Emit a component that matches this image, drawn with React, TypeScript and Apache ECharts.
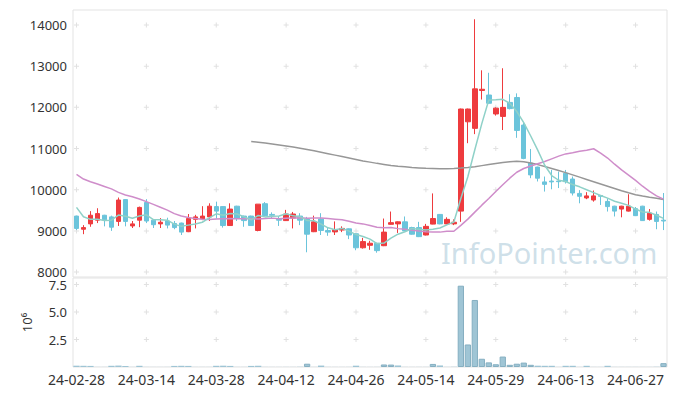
import React, { useEffect, useRef } from 'react';
import * as echarts from 'echarts';

const dates = [
  '24-02-28','24-02-29','24-03-04','24-03-05','24-03-06','24-03-07','24-03-08','24-03-11','24-03-12','24-03-13',
  '24-03-14','24-03-15','24-03-18','24-03-19','24-03-20','24-03-21','24-03-22','24-03-25','24-03-26','24-03-27',
  '24-03-28','24-03-29','24-04-01','24-04-02','24-04-03','24-04-04','24-04-05','24-04-08','24-04-09','24-04-11',
  '24-04-12','24-04-15','24-04-16','24-04-17','24-04-18','24-04-19','24-04-22','24-04-23','24-04-24','24-04-25',
  '24-04-26','24-04-29','24-04-30','24-05-02','24-05-03','24-05-07','24-05-08','24-05-09','24-05-10','24-05-13',
  '24-05-14','24-05-16','24-05-17','24-05-20','24-05-21','24-05-22','24-05-23','24-05-24','24-05-27','24-05-28',
  '24-05-29','24-05-30','24-05-31','24-06-03','24-06-04','24-06-05','24-06-07','24-06-10','24-06-11','24-06-12',
  '24-06-13','24-06-14','24-06-17','24-06-18','24-06-19','24-06-20','24-06-21','24-06-24','24-06-25','24-06-26',
  '24-06-27','24-06-28','24-07-01','24-07-02','24-07-03'
];

const opens = [
  9360,9040,9170,9260,9380,9340,9230,9760,9120,9260,
  9690,9260,9170,9240,9180,9190,8980,9280,9290,9340,
  9590,9590,9130,9600,9360,9360,9010,9660,9400,9280,
  9250,9310,9360,9290,8980,9290,9010,8975,9020,9050,
  8930,8590,8650,8700,8640,9160,9170,9220,9080,9080,
  8900,9165,9400,9170,9170,9480,11650,11490,12410,12300,
  11840,11780,12120,12240,11570,10650,10550,10190,10210,10210,
  10400,10260,9910,9800,9750,9860,9715,9600,9530,9480,
  9540,9600,9280,9400,9260
];
const closes = [
  9060,9080,9380,9420,9270,9090,9750,9230,9170,9570,
  9240,9150,9210,9140,9080,8970,9300,9340,9360,9600,
  9480,9130,9530,9310,9250,9130,9650,9370,9380,9260,
  9410,9410,9260,8920,9220,9010,8970,9030,9060,8900,
  8590,8740,8700,8520,8970,9200,9220,9000,8920,8860,
  9110,9300,9170,9280,9210,11960,11960,12450,12440,12100,
  11980,12000,11970,11440,10760,10360,10280,10130,10190,10195,
  10195,9920,9840,9850,9850,9840,9590,9480,9600,9600,
  9370,9250,9430,9230,9240
];
const lows = [
  9020,8920,9100,9190,9110,9000,9120,9110,9070,9090,
  9190,9070,9070,9060,9040,8900,8970,9060,9260,9240,
  9300,9080,9120,9240,9100,9120,8990,9360,9290,9120,
  9240,9060,9140,8480,8970,8900,8880,8900,8970,8800,
  8530,8570,8540,8470,8630,9150,8950,8990,8910,8850,
  8890,9160,9160,9160,9140,9220,11130,11350,12190,12090,
  11800,11450,11950,11260,10740,10280,10200,9955,10010,10040,
  10150,9860,9670,9770,9710,9630,9470,9350,9330,9470,
  9360,9240,9250,9040,9020
];
const highs = [
  9370,9140,9480,9550,9390,9370,9810,9770,9240,9590,
  9770,9270,9310,9320,9240,9200,9410,9390,9600,9670,
  9710,9600,9670,9610,9370,9370,9650,9700,9450,9360,
  9510,9460,9430,9340,9370,9430,9080,9230,9110,9060,
  8940,8830,8760,8710,9300,9470,9230,9350,9100,9220,
  9170,9910,9410,9330,9280,11970,11970,14140,12900,12840,
  12000,12950,12320,12340,11620,10990,10560,10320,10480,10440,
  10480,10320,9990,9940,9980,9870,9790,9610,9610,9890,
  9580,9610,9530,9470,9920
];

const ma5 = [
  9570,9345,9280,9280,9250,9260,9385,9355,9305,9360,
  9390,9275,9270,9260,9165,9110,9140,9165,9210,9315,
  9415,9380,9420,9410,9340,9270,9375,9340,9355,9360,
  9415,9365,9345,9250,9245,9165,9075,9030,9060,8995,
  8910,8865,8800,8690,8705,8825,8920,8980,9060,9040,
  9020,9040,9070,9145,9215,9785,10315,10970,11605,12180,
  12185,12195,12100,11900,11630,11305,10960,10595,10345,10230,
  10200,10125,10070,10000,9930,9860,9795,9720,9670,9620,
  9530,9460,9450,9380,9305
];
const ma20 = [
  10375,10260,10195,10140,10080,10020,9935,9870,9830,9775,
  9710,9645,9575,9505,9420,9360,9325,9300,9285,9275,
  9290,9295,9300,9295,9295,9295,9290,9300,9310,9295,
  9305,9315,9320,9305,9315,9315,9300,9285,9270,9235,
  9190,9170,9130,9090,9075,9080,9055,9040,9015,8995,
  8980,8975,8970,8990,8990,9135,9285,9455,9625,9785,
  9955,10120,10280,10425,10515,10575,10630,10685,10750,10815,
  10870,10900,10935,10960,10995,10890,10770,10620,10480,10355,
  10225,10085,9960,9850,9770
];
const maLong: (number | string)[] = [
  '-','-','-','-','-','-','-','-','-','-',
  '-','-','-','-','-','-','-','-','-','-',
  '-','-','-','-','-',11170,11155,11135,11110,11085,
  11060,11035,11005,10975,10945,10910,10875,10840,10805,10770,
  10735,10700,10670,10640,10615,10590,10570,10555,10540,10530,
  10520,10515,10510,10510,10515,10525,10540,10560,10585,10610,
  10635,10660,10680,10690,10680,10650,10610,10565,10515,10465,
  10415,10360,10305,10250,10195,10140,10085,10030,9975,9925,
  9880,9845,9815,9790,9765
];

const volumes = [
  120000,110000,100000,10000,10000,110000,130000,100000,10000,110000,
  10000,8000,8000,10000,100000,110000,100000,10000,10000,10000,
  110000,120000,100000,10000,10000,100000,120000,10000,8000,8000,
  10000,10000,20000,300000,10000,130000,10000,8000,8000,10000,
  120000,10000,8000,10000,230000,220000,140000,10000,8000,10000,
  10000,280000,140000,10000,20000,7400000,2050000,6100000,750000,420000,
  250000,950000,200000,300000,400000,200000,120000,110000,110000,10000,
  110000,110000,10000,110000,10000,10000,110000,10000,10000,10000,
  10000,10000,10000,20000,350000
];

const priceTicks = [8000, 9000, 10000, 11000, 12000, 13000, 14000];
const volumeTicks = [2500000, 5000000, 7500000];
const markColumns = [0, 10, 20, 30, 40, 50, 60, 70, 80];

const FONT = '"Noto Sans", "DejaVu Sans", sans-serif';
const UP = '#ee3b3e';
const DOWN = '#6bc4db';
const PLUS = 'path://M0,2h5v1h-5z M2,0h1v5h-1z';

export default function App() {
  const ref = useRef<HTMLDivElement>(null);

  useEffect(() => {
    if (!ref.current) return;
    const chart = echarts.init(ref.current, undefined, { renderer: 'svg' });

    const pricePlus: number[][] = [];
    markColumns.forEach((c) => priceTicks.forEach((v) => pricePlus.push([c, v])));
    const volPlus: number[][] = [];
    markColumns.forEach((c) => volumeTicks.forEach((v) => volPlus.push([c, v])));

    const volData = volumes.map((v) =>
      v >= 150000
        ? { value: v, itemStyle: { borderColor: '#85afc1', borderWidth: 1 } }
        : { value: v, itemStyle: { borderWidth: 0 } }
    );

    chart.setOption({
      animation: false,
      backgroundColor: '#ffffff',
      textStyle: { fontFamily: FONT },
      grid: [
        { left: 73, right: 10, top: 10, height: 267, show: true, borderColor: '#e3e3e3', borderWidth: 1, backgroundColor: 'transparent' },
        { left: 73, right: 10, top: 278, height: 89, show: true, borderColor: '#e3e3e3', borderWidth: 1, backgroundColor: 'transparent' },
      ],
      xAxis: [
        {
          type: 'category', gridIndex: 0, data: dates, boundaryGap: true,
          axisLine: { show: false }, axisTick: { show: false }, axisLabel: { show: false }, splitLine: { show: false },
        },
        {
          type: 'category', gridIndex: 1, data: dates, boundaryGap: true,
          axisLine: { show: false }, axisTick: { show: false }, splitLine: { show: false },
          axisLabel: { interval: 9, color: '#333', fontSize: 14, fontFamily: FONT, margin: 5 },
        },
      ],
      yAxis: [
        {
          type: 'value', gridIndex: 0, min: 7880, max: 14365, splitNumber: 6,
          axisLine: { show: false }, axisTick: { show: false }, splitLine: { show: false },
          axisLabel: {
            color: '#333', fontSize: 13, fontFamily: FONT, margin: 6, lineHeight: 12,
            formatter: (v: number) => (v % 1000 === 0 ? String(v) : ''),
          },
        },
        {
          type: 'value', gridIndex: 1, min: 0, max: 8100000, interval: 2500000,
          axisLine: { show: false }, axisTick: { show: false }, splitLine: { show: false },
          name: '10\u2076', nameLocation: 'middle', nameRotate: 90, nameGap: 40,
          nameTextStyle: { color: '#333', fontSize: 13, fontFamily: FONT },
          axisLabel: {
            color: '#333', fontSize: 13, fontFamily: FONT, margin: 6, lineHeight: 12,
            formatter: (v: number) => (v > 0 && v % 2500000 === 0 ? (v / 1e6).toFixed(1) : ''),
          },
        },
      ],
      graphic: [
        {
          type: 'text', left: 441, top: 238, z: -1, silent: true,
          style: { text: 'InfoPointer.com', fontSize: 29, fontFamily: FONT, fill: 'rgba(165,198,214,0.55)' },
        },
      ],
      series: [
        {
          type: 'scatter', xAxisIndex: 0, yAxisIndex: 0, data: pricePlus, symbol: PLUS, symbolSize: 5,
          itemStyle: { color: '#d9d9d9' }, silent: true, z: 1,
        },
        {
          type: 'scatter', xAxisIndex: 1, yAxisIndex: 1, data: volPlus, symbol: PLUS, symbolSize: 5,
          itemStyle: { color: '#d9d9d9' }, silent: true, z: 1,
        },
        {
          type: 'candlestick', xAxisIndex: 0, yAxisIndex: 0, barWidth: 5,
          data: dates.map((_, i) => [opens[i], closes[i], lows[i], highs[i]]),
          itemStyle: { color: UP, color0: DOWN, borderColor: UP, borderColor0: DOWN, borderWidth: 1 },
          z: 2,
        },
        {
          type: 'line', xAxisIndex: 0, yAxisIndex: 0, data: maLong, symbol: 'none',
          lineStyle: { color: '#979797', width: 1.5 }, z: 3,
        },
        {
          type: 'line', xAxisIndex: 0, yAxisIndex: 0, data: ma20, symbol: 'none',
          lineStyle: { color: '#cf8dca', width: 1.5 }, z: 3,
        },
        {
          type: 'line', xAxisIndex: 0, yAxisIndex: 0, data: ma5, symbol: 'none',
          lineStyle: { color: '#8fd1c8', width: 1.5 }, z: 3,
        },
        {
          type: 'bar', xAxisIndex: 1, yAxisIndex: 1, data: volData, barCategoryGap: '10%',
          itemStyle: { color: '#9fc5d5' }, z: 2,
        },
      ],
    });

    return () => chart.dispose();
  }, []);

  return (
    <div
      ref={ref}
      style={{ position: 'fixed', left: 0, top: 0, width: 677, height: 396, background: '#fff' }}
    />
  );
}
